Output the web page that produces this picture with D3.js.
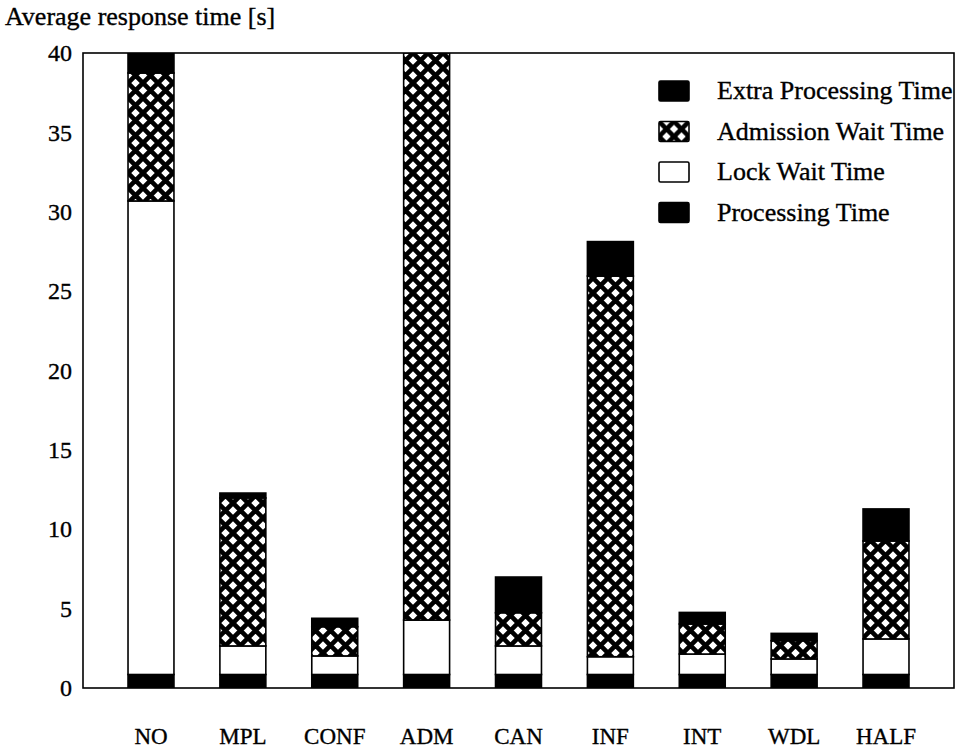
<!DOCTYPE html>
<html>
<head>
<meta charset="utf-8">
<script src="https://cdn.jsdelivr.net/npm/d3@7"></script>
<style>
  html, body { margin: 0; padding: 0; background: #fff; }
  text { font-family: "Liberation Serif", "DejaVu Serif", serif; fill: #000; stroke: #000; stroke-width: 0.35px; }
</style>
</head>
<body>
<svg id="chart" width="957" height="748"></svg>
<script>
// Concurrency-control strategies
const categories = ["NO", "MPL", "CONF", "ADM", "CAN", "INF", "INT", "WDL", "HALF"];

// Stacked components of the average response time, seconds
const processingTime      = [0.85, 0.85, 0.85, 0.85, 0.85, 0.85, 0.85, 0.85, 0.85];
const lockWaitTime        = [29.83, 1.80, 1.17, 3.43, 1.80, 1.12, 1.29, 0.98, 2.24];
const admissionWaitTime   = [8.06, 9.32, 1.84, 35.72, 2.09, 23.98, 1.89, 1.15, 6.17];
const extraProcessingTime = [1.26, 0.31, 0.53, 0.00, 2.25, 2.17, 0.73, 0.46, 2.02];

const yTicks = [0, 5, 10, 15, 20, 25, 30, 35, 40];
const yTitle = "Average response time [s]";

const seriesNames = ["Processing Time", "Lock Wait Time", "Admission Wait Time", "Extra Processing Time"];
const legendOrder = ["Extra Processing Time", "Admission Wait Time", "Lock Wait Time", "Processing Time"];

const rows = categories.map((c, i) => ({
  cat: c,
  "Processing Time": processingTime[i],
  "Lock Wait Time": lockWaitTime[i],
  "Admission Wait Time": admissionWaitTime[i],
  "Extra Processing Time": extraProcessingTime[i]
}));

const svg = d3.select("#chart");
const margin = { left: 83, top: 53 };
const plotW = 871;
const plotH = 635; // baseline at y=688

// Cross-hatch fill
const defs = svg.append("defs");
const pat = defs.append("pattern")
  .attr("id", "xhatch")
  .attr("patternUnits", "userSpaceOnUse")
  .attr("width", 15).attr("height", 15);
pat.append("rect").attr("width", 15).attr("height", 15).attr("fill", "#fff");
pat.append("path")
  .attr("d", "M-2,-2L17,17M17,-2L-2,17M-2,13L2,17M13,-2L17,2M13,17L17,13M-2,2L2,-2")
  .attr("stroke", "#000").attr("stroke-width", 4.6).attr("fill", "none");

const fills = {
  "Processing Time": "#000",
  "Lock Wait Time": "#fff",
  "Admission Wait Time": "url(#xhatch)",
  "Extra Processing Time": "#000"
};

const x = d3.scaleBand()
  .domain(categories)
  .range([0, plotW])
  .paddingInner(0.5)
  .paddingOuter(0.49);

const y = d3.scaleLinear().domain([0, 40]).range([plotH, 0]);

const g = svg.append("g").attr("transform", `translate(${margin.left},${margin.top})`);

g.append("clipPath").attr("id", "plotclip")
  .append("rect").attr("width", plotW).attr("height", plotH);

const layers = d3.stack().keys(seriesNames)(rows);

const bars = g.append("g").attr("clip-path", "url(#plotclip)");
bars.selectAll("g.layer")
  .data(layers)
  .join("g")
  .attr("class", "layer")
  .attr("fill", d => fills[d.key])
  .selectAll("rect")
  .data(d => d.filter(s => s[1] - s[0] > 0))
  .join("rect")
  .attr("x", d => x(d.data.cat))
  .attr("width", x.bandwidth())
  .attr("y", d => y(d[1]))
  .attr("height", d => y(d[0]) - y(d[1]))
  .attr("stroke", "#000")
  .attr("stroke-width", 1.6);

// Frame
g.append("rect")
  .attr("width", plotW).attr("height", plotH)
  .attr("fill", "none").attr("stroke", "#000").attr("stroke-width", 1.6);

// Y axis labels (no tick marks)
const yAxis = g.append("g")
  .call(d3.axisLeft(y).tickValues(yTicks).tickSize(0).tickPadding(11).tickFormat(d3.format("d")));
yAxis.select(".domain").remove();
yAxis.selectAll("text")
  .style("font-family", '"Liberation Serif", serif')
  .style("font-size", "24px")
  .attr("fill", "#000");

// X axis labels
const xAxis = g.append("g")
  .attr("transform", `translate(0,${plotH})`)
  .call(d3.axisBottom(x).tickSize(0).tickPadding(40));
xAxis.select(".domain").remove();
xAxis.selectAll("text")
  .style("font-family", '"Liberation Serif", serif')
  .style("font-size", "23px")
  .attr("fill", "#000");

// Y title
svg.append("text")
  .attr("x", 5).attr("y", 25)
  .style("font-size", "26px")
  .text(yTitle);

// Legend
const legend = svg.append("g").attr("transform", "translate(659,81)");
const li = legend.selectAll("g")
  .data(legendOrder)
  .join("g")
  .attr("transform", (d, i) => `translate(0,${i * 40.5})`);
li.append("rect")
  .attr("width", 30).attr("height", 20)
  .attr("fill", d => fills[d])
  .attr("stroke", "#000").attr("stroke-width", 1.6)
  .attr("rx", 1.5);
li.append("text")
  .attr("x", 58).attr("y", 18)
  .style("font-size", "26px")
  .text(d => d);
</script>
</body>
</html>
